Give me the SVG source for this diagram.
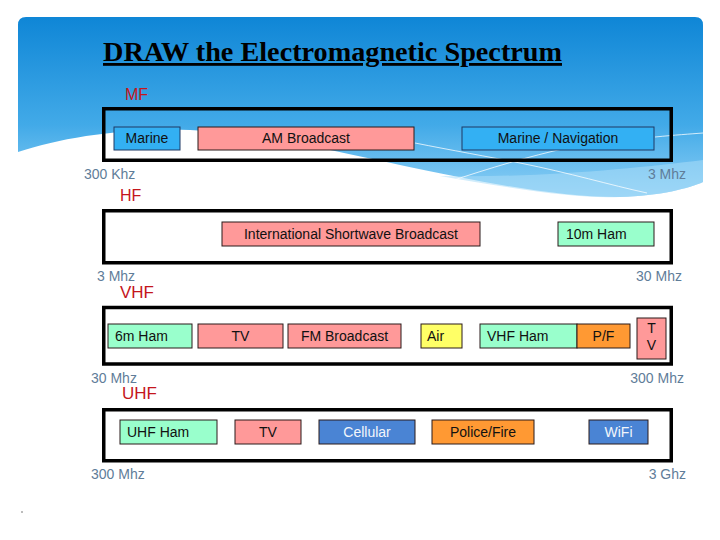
<svg xmlns="http://www.w3.org/2000/svg" width="720" height="540" viewBox="0 0 720 540">
  <defs>
    <linearGradient id="sky" x1="0" y1="0" x2="0" y2="1">
      <stop offset="0" stop-color="#0f86d6"/>
      <stop offset="0.6" stop-color="#42aae8"/>
      <stop offset="1" stop-color="#8fd0f5"/>
    </linearGradient>
    <style>
      .frame{fill:none;stroke:#000;stroke-width:3.5}
      .framew{fill:#fff;stroke:#000;stroke-width:3.5}
      .b{stroke:#2a1a1a;stroke-width:1}
      .bn{stroke:#1f3864;stroke-width:1}
      .pink{fill:#ff9999}
      .sky{fill:#33b0f3}
      .mint{fill:#99ffcc}
      .yel{fill:#ffff66}
      .org{fill:#ff9933}
      .blu{fill:#4a84d4}
      text{font-family:"Liberation Sans",Arial,sans-serif}
      .t{font-size:14px;fill:#111}
      .tw{font-size:14px;fill:#f2f6fb}
      .c{text-anchor:middle}
      .f{font-size:14px;fill:#5f7d99}
      .r{text-anchor:end}
      .band{fill:#c4161c}
      .wisp{fill:none;stroke:#fff;stroke-width:1;opacity:0.75}
    </style>
  </defs>

  <g id="background">
    <rect x="0" y="0" width="720" height="540" fill="#fff"/>
    <path d="M18,25 Q18,17 26,17 H695 Q703,17 703,25 V182 C690,188 660,196 620,197 C560,198 470,180 400,165 C320,148 260,133 190,130 C120,128 60,138 18,152 Z" fill="url(#sky)"/>
    <path d="M440,176 C520,190 580,199 620,197 C660,196 690,188 703,182 V160 C640,168 540,178 440,176 Z" fill="#a9dcf7" opacity="0.55"/>
    <path class="wisp" d="M415,143 C450,150 490,157 520,163 C570,173 610,185 647,193"/>
    <path class="wisp" d="M448,182 C490,168 530,156 567,148"/>
    <path class="wisp" d="M655,137 C675,135 690,134 703,133"/>
    <circle cx="22" cy="512" r="0.8" fill="#666"/>
  </g>

  <g id="title">
    <text x="103" y="61" font-family="Liberation Serif,'Times New Roman',serif" font-weight="bold" font-size="28" text-decoration="underline" textLength="459" lengthAdjust="spacingAndGlyphs" fill="#000" style="font-family:'Liberation Serif','Times New Roman',serif">DRAW the Electromagnetic Spectrum</text>
  </g>

  <!-- MF band -->
  <g id="mf">
    <text class="band" x="125" y="100" font-size="16">MF</text>
    <rect class="frame" x="103.75" y="108.75" width="567.5" height="51.5"/>
    <text class="f" x="84" y="179">300 Khz</text>
    <text class="f r" x="686" y="179">3 Mhz</text>
  </g>
  <g id="mf-marine"><rect class="sky bn" x="114" y="127" width="66" height="23"/><text class="t c" x="147" y="143">Marine</text></g>
  <g id="mf-am"><rect class="pink b" x="198" y="127" width="216" height="23"/><text class="t c" x="306" y="143">AM Broadcast</text></g>
  <g id="mf-marnav"><rect class="sky bn" x="462" y="127" width="192" height="23"/><text class="t c" x="558" y="143">Marine / Navigation</text></g>

  <!-- HF band -->
  <g id="hf">
    <text class="band" x="120" y="201" font-size="16">HF</text>
    <rect class="framew" x="103.75" y="210.75" width="567.5" height="52"/>
    <text class="f" x="97" y="281">3 Mhz</text>
    <text class="f r" x="682" y="281">30 Mhz</text>
  </g>
  <g id="hf-sw"><rect class="pink b" x="222" y="222" width="258" height="24"/><text class="t c" x="351" y="239">International Shortwave Broadcast</text></g>
  <g id="hf-10m"><rect class="mint b" x="558" y="222" width="96" height="24"/><text class="t" x="566" y="239">10m Ham</text></g>

  <!-- VHF band -->
  <g id="vhf">
    <text class="band" x="120" y="298" font-size="17">VHF</text>
    <rect class="framew" x="103.75" y="307.5" width="567.5" height="56.5"/>
    <text class="f" x="91" y="383">30 Mhz</text>
    <text class="f r" x="684" y="383">300 Mhz</text>
  </g>
  <g id="vhf-6m"><rect class="mint b" x="108" y="324" width="84" height="24"/><text class="t" x="115" y="341">6m Ham</text></g>
  <g id="vhf-tv"><rect class="pink b" x="198" y="324" width="85" height="24"/><text class="t c" x="240.5" y="341">TV</text></g>
  <g id="vhf-fm"><rect class="pink b" x="288" y="324" width="113" height="24"/><text class="t c" x="344.5" y="341">FM Broadcast</text></g>
  <g id="vhf-air"><rect class="yel b" x="421" y="324" width="41" height="24"/><text class="t" x="427" y="341">Air</text></g>
  <g id="vhf-ham"><rect class="mint b" x="480" y="324" width="97" height="24"/><text class="t" x="487" y="341">VHF Ham</text></g>
  <g id="vhf-pf"><rect class="org b" x="577" y="324" width="53" height="24"/><text class="t c" x="603.5" y="341">P/F</text></g>
  <g id="vhf-tv2"><rect class="pink b" x="637" y="318" width="29" height="41"/><text class="t c" x="651.5" y="333">T</text><text class="t c" x="651.5" y="350">V</text></g>

  <!-- UHF band -->
  <g id="uhf">
    <text class="band" x="122" y="399" font-size="17">UHF</text>
    <rect class="framew" x="103.75" y="409.75" width="567.5" height="51"/>
    <text class="f" x="91" y="479">300 Mhz</text>
    <text class="f r" x="686" y="479">3 Ghz</text>
  </g>
  <g id="uhf-ham"><rect class="mint b" x="120" y="420" width="97" height="24"/><text class="t" x="127" y="437">UHF Ham</text></g>
  <g id="uhf-tv"><rect class="pink b" x="235" y="420" width="66" height="24"/><text class="t c" x="268" y="437">TV</text></g>
  <g id="uhf-cell"><rect class="blu b" x="319" y="420" width="96" height="24"/><text class="tw c" x="367" y="437">Cellular</text></g>
  <g id="uhf-police"><rect class="org b" x="432" y="420" width="102" height="24"/><text class="t c" x="483" y="437">Police/Fire</text></g>
  <g id="uhf-wifi"><rect class="blu b" x="589" y="420" width="59" height="24"/><text class="tw c" x="618.5" y="437">WiFi</text></g>
</svg>
